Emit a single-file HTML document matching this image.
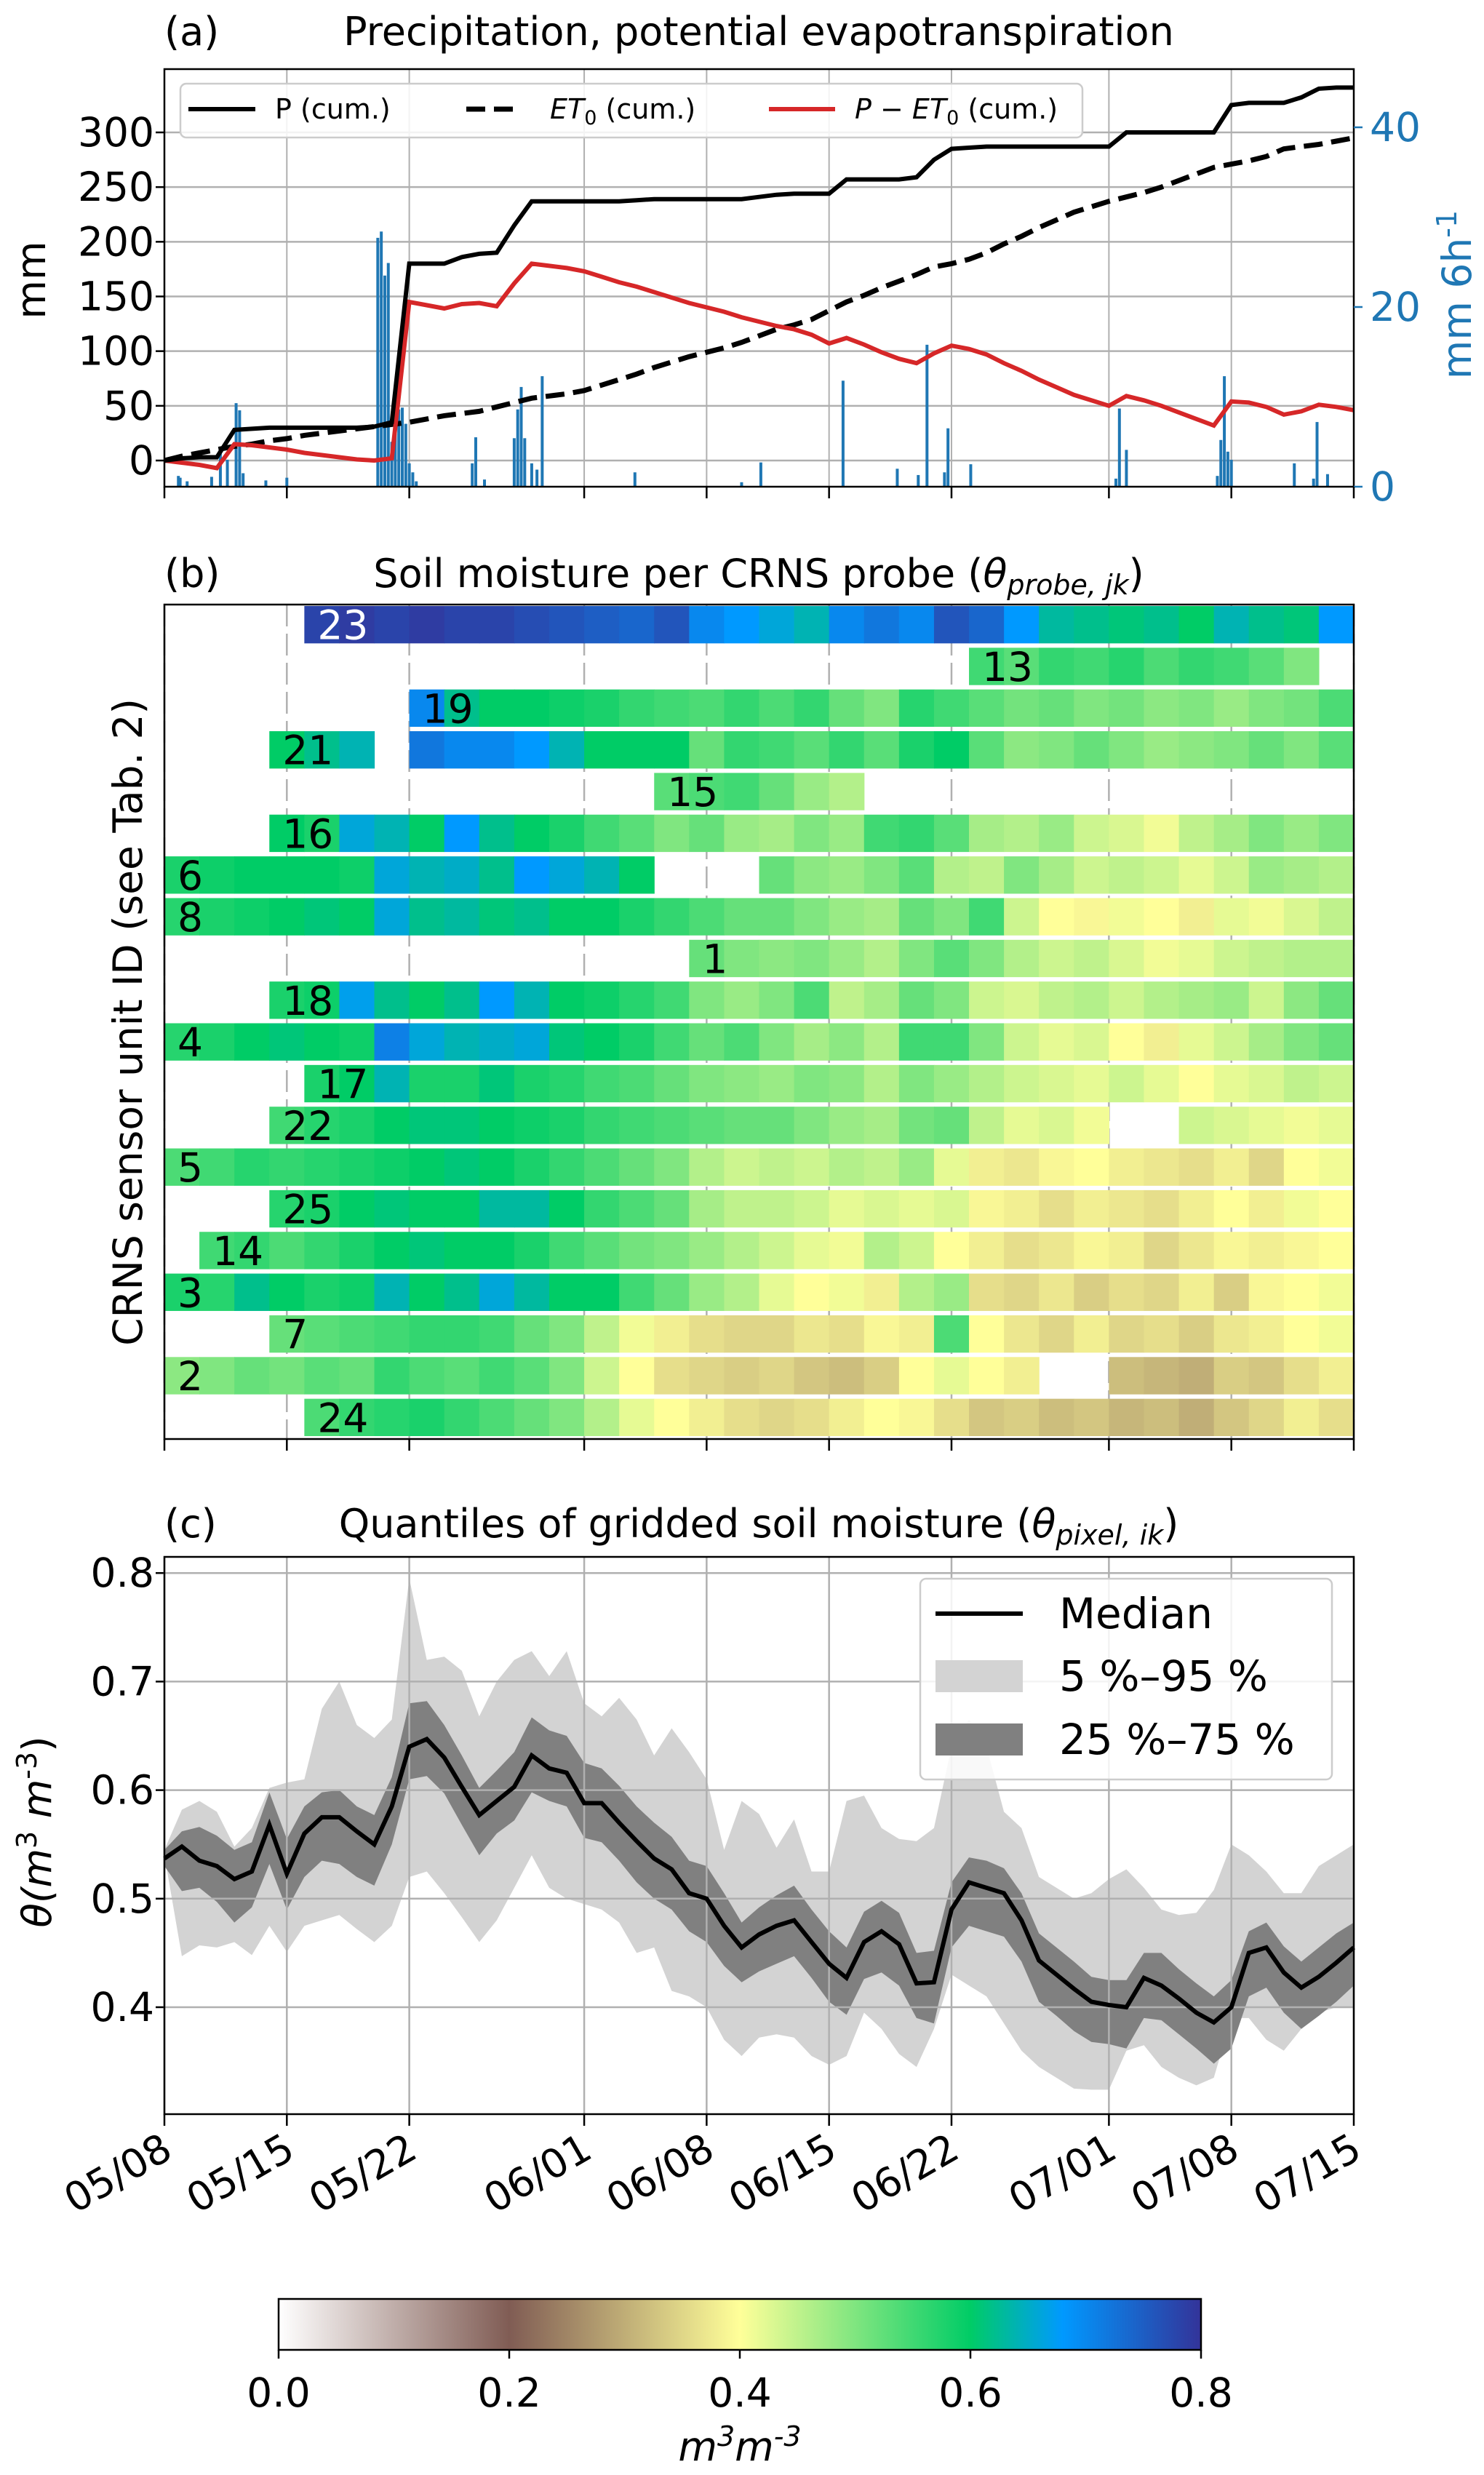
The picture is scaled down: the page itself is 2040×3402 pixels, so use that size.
<!DOCTYPE html>
<html><head><meta charset="utf-8"><style>
html,body{margin:0;padding:0;background:#fff}
svg text{font-family:"DejaVu Sans","Liberation Sans",sans-serif}
</style></head><body>
<svg id="fig" xmlns="http://www.w3.org/2000/svg" width="2040" height="3397" viewBox="0 0 2040 3397">
<defs>
<linearGradient id="cbgrad" x1="0" x2="1" y1="0" y2="0">
<stop offset="0" stop-color="#ffffff"/><stop offset="0.25" stop-color="#805c54"/><stop offset="0.5" stop-color="#ffff99"/><stop offset="0.75" stop-color="#00cc66"/><stop offset="0.85" stop-color="#0099ff"/><stop offset="1" stop-color="#333399"/>
</linearGradient>
</defs>
<g id="pa"></g>
<g id="pb"></g>
<g id="pc"></g>
<g id="cb"></g>
</svg>
<script>
// ---------- shared data ----------
const dateTickDays = [0,7,14,24,31,38,45,54,61,68];
const dateTickLabels = ["05/08","05/15","05/22","06/01","06/08","06/15","06/22","07/01","07/08","07/15"];
// Panel a
const precipCum = [0,2,3,3,28,29,30,30,30,30,30,30,31,35,180,180,180,186,189,190,215,237,237,237,237,237,237,238,239,239,239,239,239,239,241,243,244,244,244,257,257,257,257,259,275,285,286,287,287,287,287,287,287,287,287,300,300,300,300,300,300,325,327,327,327,332,340,341,341];
const et0Cum = [0,4,7,10,13,15,18,20,23,25,27,29,31,33,35,38,41,43,45,49,53,57,59,61,64,69,74,79,85,90,95,99,103,108,114,120,124,129,137,145,151,158,164,170,177,180,184,190,198,205,213,220,227,232,237,241,245,250,256,262,268,271,274,278,285,287,289,292,295];
const rainDay = [0.8,0.9,1.3,2.7,3.2,3.6,4.1,4.3,4.5,5.8,7.0,12.2,12.4,12.6,12.8,13.0,13.2,13.4,13.6,13.8,14.0,14.2,14.4,17.6,17.8,18.3,20.0,20.2,20.4,20.6,21.0,21.3,21.6,26.9,33.0,34.1,38.8,41.9,43.1,43.6,44.6,44.8,46.1,54.4,54.6,55.0,60.2,60.4,60.6,60.8,61.0,64.6,65.7,65.9,66.5];
const rainVal = [1.2,1.0,0.6,1.1,4.0,3.0,9.3,8.5,1.5,0.7,1.0,27.7,28.4,23.5,24.9,5,10.6,8.6,8.8,7,2.6,1.6,0.6,2.6,5.5,0.8,5.4,8.6,11.1,5.4,2.6,1.9,12.3,1.6,0.5,2.7,11.8,2.0,1.3,15.8,1.6,6.5,2.5,0.9,8.7,4.1,1.2,5.2,12.3,3.9,3.0,2.6,0.9,7.2,1.4];
const aLeftTicks = [0,50,100,150,200,250,300];
const aRightTicks = [0,20,40];
// Panel b
const probeIds = ["23","13","19","21","15","16","6","8","1","18","4","17","22","5","25","14","3","7","2","24"];
const N = null;
const sm23=[N,N,N,N,0.78,0.79,0.78,0.79,0.78,0.78,0.77,0.76,0.75,0.74,0.76,0.70,0.68,0.66,0.64,0.70,0.72,0.70,0.76,0.74,0.68,0.63,0.62,0.61,0.62,0.60,0.64,0.62,0.61,0.68];
const sm13=[N,N,N,N,N,N,N,N,N,N,N,N,N,N,N,N,N,N,N,N,N,N,N,0.55,0.53,0.56,0.55,0.57,0.54,0.56,0.55,0.53,0.50,N];
const sm19=[N,N,N,N,N,N,N,0.70,0.62,0.60,0.60,0.59,0.58,0.56,0.55,0.54,0.56,0.54,0.56,0.52,0.50,0.57,0.55,0.53,0.51,0.52,0.50,0.51,0.49,0.50,0.48,0.50,0.51,0.54];
const sm21=[N,N,N,0.60,0.62,0.64,N,0.72,0.70,0.70,0.68,0.64,0.60,0.60,0.60,0.52,0.56,0.55,0.53,0.56,0.53,0.58,0.60,0.53,0.49,0.50,0.52,0.50,0.48,0.49,0.50,0.52,0.50,0.53];
const sm15=[N,N,N,N,N,N,N,N,N,N,N,N,N,N,0.53,0.54,0.55,0.52,0.48,0.46,N,N,N,N,N,N,N,N,N,N,N,N,N,N];
const sm16=[N,N,N,0.60,0.58,0.66,0.64,0.60,0.68,0.62,0.60,0.58,0.55,0.53,0.50,0.52,0.48,0.47,0.50,0.48,0.55,0.56,0.53,0.47,0.46,0.48,0.44,0.43,0.41,0.45,0.47,0.50,0.48,0.50];
const sm6=[0.58,0.59,0.60,0.60,0.60,0.59,0.66,0.64,0.65,0.62,0.68,0.66,0.64,0.60,N,N,N,0.52,0.49,0.48,0.50,0.53,0.46,0.45,0.50,0.47,0.44,0.45,0.44,0.42,0.44,0.48,0.47,0.46];
const sm8=[0.57,0.58,0.59,0.60,0.61,0.60,0.66,0.62,0.63,0.61,0.62,0.60,0.60,0.58,0.56,0.54,0.52,0.52,0.50,0.48,0.47,0.52,0.50,0.55,0.44,0.40,0.39,0.41,0.40,0.38,0.42,0.41,0.43,0.45];
const sm1=[N,N,N,N,N,N,N,N,N,N,N,N,N,N,N,0.52,0.50,0.49,0.50,0.48,0.46,0.50,0.53,0.50,0.46,0.44,0.45,0.43,0.41,0.42,0.44,0.45,0.46,0.46];
const sm18=[N,N,N,0.58,0.59,0.67,0.62,0.60,0.62,0.68,0.64,0.60,0.59,0.57,0.55,0.50,0.48,0.50,0.54,0.45,0.47,0.52,0.50,0.44,0.43,0.45,0.46,0.44,0.46,0.47,0.48,0.44,0.49,0.52];
const sm4=[0.57,0.58,0.60,0.61,0.60,0.59,0.71,0.66,0.64,0.65,0.66,0.61,0.60,0.58,0.55,0.52,0.54,0.50,0.47,0.49,0.46,0.55,0.55,0.50,0.44,0.42,0.43,0.40,0.38,0.42,0.44,0.47,0.50,0.52];
const sm17=[N,N,N,N,0.58,0.60,0.64,0.58,0.58,0.61,0.58,0.57,0.55,0.54,0.52,0.50,0.49,0.48,0.50,0.49,0.46,0.50,0.48,0.46,0.44,0.43,0.42,0.44,0.42,0.40,0.42,0.43,0.45,0.44];
const sm22=[N,N,N,0.55,0.57,0.58,0.60,0.61,0.61,0.60,0.59,0.58,0.56,0.55,0.54,0.53,0.52,0.52,0.50,0.48,0.47,0.51,0.52,0.45,0.42,0.43,0.41,N,N,0.44,0.43,0.42,0.41,0.42];
const sm5=[0.54,0.55,0.57,0.56,0.57,0.58,0.59,0.60,0.61,0.60,0.58,0.56,0.54,0.52,0.50,0.46,0.44,0.45,0.44,0.46,0.45,0.48,0.42,0.38,0.37,0.39,0.40,0.38,0.37,0.36,0.38,0.35,0.40,0.41];
const sm25=[N,N,N,0.57,0.58,0.60,0.61,0.60,0.60,0.63,0.63,0.60,0.56,0.54,0.52,0.47,0.45,0.45,0.44,0.42,0.43,0.42,0.43,0.39,0.38,0.36,0.38,0.37,0.36,0.38,0.40,0.38,0.41,0.40];
const sm14=[N,0.55,0.56,0.54,0.56,0.58,0.60,0.61,0.60,0.60,0.58,0.55,0.53,0.51,0.50,0.48,0.46,0.44,0.42,0.41,0.46,0.44,0.40,0.38,0.36,0.37,0.39,0.38,0.35,0.37,0.39,0.38,0.39,0.40];
const sm3=[0.58,0.57,0.62,0.60,0.58,0.59,0.64,0.60,0.62,0.66,0.63,0.60,0.60,0.55,0.52,0.48,0.46,0.42,0.40,0.41,0.38,0.46,0.48,0.36,0.35,0.37,0.34,0.36,0.35,0.38,0.34,0.39,0.40,0.41];
const sm7=[N,N,N,0.52,0.53,0.54,0.55,0.56,0.56,0.55,0.52,0.50,0.45,0.41,0.38,0.36,0.35,0.35,0.37,0.36,0.39,0.38,0.54,0.40,0.37,0.35,0.38,0.35,0.36,0.34,0.37,0.38,0.40,0.41];
const sm2=[0.49,0.50,0.52,0.51,0.53,0.52,0.56,0.54,0.53,0.55,0.53,0.50,0.44,0.40,0.36,0.35,0.34,0.35,0.33,0.32,0.34,0.40,0.42,0.40,0.38,N,N,0.32,0.31,0.30,0.34,0.33,0.36,0.38];
const sm24=[N,N,N,N,0.54,0.56,0.57,0.58,0.56,0.54,0.52,0.50,0.46,0.42,0.40,0.38,0.36,0.35,0.36,0.38,0.40,0.39,0.36,0.33,0.34,0.32,0.33,0.31,0.32,0.30,0.33,0.35,0.38,0.36];
const probeRows = [sm23,sm13,sm19,sm21,sm15,sm16,sm6,sm8,sm1,sm18,sm4,sm17,sm22,sm5,sm25,sm14,sm3,sm7,sm2,sm24];
// Panel c
const qMedian=[0.537,0.548,0.535,0.530,0.518,0.525,0.568,0.523,0.560,0.575,0.575,0.562,0.550,0.585,0.640,0.647,0.630,0.603,0.577,0.590,0.603,0.632,0.620,0.616,0.588,0.588,0.570,0.553,0.537,0.527,0.505,0.500,0.475,0.455,0.467,0.475,0.480,0.460,0.440,0.427,0.460,0.470,0.458,0.422,0.423,0.490,0.515,0.510,0.505,0.480,0.443,0.430,0.417,0.405,0.402,0.400,0.427,0.420,0.408,0.395,0.386,0.400,0.450,0.455,0.432,0.418,0.428,0.441,0.455];
const q75=[0.545,0.562,0.566,0.558,0.545,0.552,0.598,0.555,0.585,0.598,0.600,0.585,0.577,0.612,0.680,0.682,0.660,0.632,0.602,0.618,0.635,0.667,0.655,0.650,0.625,0.620,0.604,0.585,0.570,0.557,0.535,0.530,0.505,0.478,0.492,0.503,0.512,0.490,0.470,0.455,0.488,0.498,0.487,0.450,0.452,0.515,0.538,0.535,0.528,0.505,0.468,0.455,0.442,0.428,0.425,0.425,0.450,0.450,0.435,0.422,0.410,0.425,0.470,0.478,0.456,0.442,0.455,0.468,0.478];
const q25=[0.530,0.507,0.510,0.497,0.478,0.492,0.532,0.490,0.520,0.535,0.532,0.520,0.512,0.550,0.610,0.613,0.597,0.568,0.540,0.560,0.572,0.598,0.590,0.585,0.556,0.552,0.535,0.515,0.500,0.490,0.470,0.460,0.438,0.423,0.433,0.440,0.447,0.427,0.405,0.393,0.426,0.432,0.420,0.390,0.385,0.455,0.475,0.470,0.465,0.442,0.405,0.392,0.378,0.368,0.366,0.362,0.390,0.388,0.375,0.362,0.348,0.362,0.410,0.418,0.395,0.380,0.392,0.405,0.420];
const q95=[0.545,0.582,0.590,0.580,0.548,0.565,0.602,0.607,0.610,0.675,0.700,0.660,0.648,0.665,0.795,0.720,0.723,0.710,0.668,0.700,0.720,0.728,0.705,0.728,0.680,0.668,0.685,0.665,0.632,0.657,0.635,0.610,0.545,0.590,0.578,0.547,0.573,0.525,0.525,0.590,0.595,0.565,0.555,0.553,0.565,0.640,0.665,0.640,0.580,0.565,0.520,0.510,0.500,0.505,0.518,0.527,0.510,0.490,0.485,0.487,0.508,0.550,0.540,0.525,0.505,0.505,0.530,0.540,0.550];
const q05=[0.540,0.447,0.457,0.455,0.460,0.448,0.475,0.451,0.475,0.480,0.485,0.472,0.460,0.475,0.520,0.525,0.505,0.483,0.460,0.480,0.510,0.540,0.510,0.500,0.495,0.490,0.478,0.450,0.455,0.415,0.410,0.400,0.370,0.355,0.372,0.375,0.372,0.355,0.347,0.355,0.395,0.380,0.357,0.345,0.380,0.430,0.420,0.410,0.385,0.360,0.345,0.335,0.325,0.324,0.324,0.360,0.365,0.345,0.335,0.328,0.335,0.390,0.390,0.370,0.360,0.380,0.395,0.400,0.400];
const cTicks=[0.4,0.5,0.6,0.7,0.8];
const cbTicks=[0.0,0.2,0.4,0.6,0.8];

// ---------- helpers ----------
const NS="http://www.w3.org/2000/svg";
function mk(parent,tag,attrs,txt){const e=document.createElementNS(NS,tag);for(const k in attrs)e.setAttribute(k,attrs[k]);if(txt!==undefined)e.textContent=txt;parent.appendChild(e);return e;}
const L=226,R=1861;
const xd=d=>L+(R-L)*d/68;
function lerp(a,b,t){return a+(b-a)*t}
const cmStops=[[0,[255,255,255]],[0.2,[128,92,84]],[0.4,[255,255,153]],[0.6,[0,204,102]],[0.68,[0,153,255]],[0.8,[51,51,153]]];
function cmap(v){v=Math.max(0,Math.min(0.8,v));for(let i=1;i<cmStops.length;i++){if(v<=cmStops[i][0]){const a=cmStops[i-1],b=cmStops[i];const t=(v-a[0])/(b[0]-a[0]);return `rgb(${Math.round(lerp(a[1][0],b[1][0],t))},${Math.round(lerp(a[1][1],b[1][1],t))},${Math.round(lerp(a[1][2],b[1][2],t))})`;}}return "rgb(51,51,153)";}
function xTicks(g,B){dateTickDays.forEach((d)=>{const t=mk(g,'line',{x1:xd(d),x2:xd(d),y1:B,y2:B+16,stroke:'#000','stroke-width':2.5});});}

// ---------- Panel A ----------
(function(){
const g=document.getElementById('pa');const T=95,B=669;
const y=v=>633-v*451/300;const yr=v=>669-v*494/40;
mk(g,'text',{x:226,y:62,'font-size':54,},'(a)');
mk(g,'text',{x:1043,y:62,'font-size':54,'text-anchor':'middle',},'Precipitation, potential evapotranspiration');
aLeftTicks.forEach(v=>{const l=mk(g,'line',{x1:L,x2:R,y1:y(v),y2:y(v),stroke:'#b0b0b0','stroke-width':2.5});
const t=mk(g,'text',{x:L-14,y:y(v)+19,'font-size':55,'text-anchor':'end'},String(v));
mk(g,'line',{x1:L-12,x2:L,y1:y(v),y2:y(v),stroke:'#000','stroke-width':2.5});});
dateTickDays.forEach(d=>{const l=mk(g,'line',{x1:xd(d),x2:xd(d),y1:T,y2:B,stroke:'#b0b0b0','stroke-width':2});});
const bw=4;
rainDay.forEach((d,i)=>{const r=mk(g,'rect',{x:xd(d)-bw/2,y:yr(rainVal[i]),width:bw,height:B-yr(rainVal[i]),fill:'#1f77b4'});});
const pts=a=>a.map((v,i)=>`${xd(i).toFixed(1)},${y(v).toFixed(1)}`).join(' ');
const diff=precipCum.map((v,i)=>v-et0Cum[i]);
let e=mk(g,'polyline',{points:pts(et0Cum),fill:'none',stroke:'#000','stroke-width':7,'stroke-dasharray':'26 12'});
e=mk(g,'polyline',{points:pts(diff),fill:'none',stroke:'#d62728','stroke-width':6});
e=mk(g,'polyline',{points:pts(precipCum),fill:'none',stroke:'#000','stroke-width':6});
mk(g,'rect',{x:L,y:T,width:R-L,height:B-T,fill:'none',stroke:'#000','stroke-width':2.5,});
aRightTicks.forEach(v=>{mk(g,'line',{x1:R,x2:R+12,y1:yr(v),y2:yr(v),stroke:'#1f77b4','stroke-width':2.5});
const t=mk(g,'text',{x:R+22,y:yr(v)+19,'font-size':55,fill:'#1f77b4'},String(v));});
xTicks(g,B);
mk(g,'text',{x:0,y:0,'font-size':55,'text-anchor':'middle',transform:'translate(62,385) rotate(-90)',},'mm');
const rt=mk(g,'text',{x:0,y:0,'font-size':55,'text-anchor':'middle',fill:'#1f77b4',transform:'translate(2022,405) rotate(-90)',},'mm 6h');
mk(rt,'tspan',{dy:-20,'font-size':38},'-1');
// legend
const lg=mk(g,'g',{});
mk(lg,'rect',{x:248,y:115,width:1240,height:74,rx:8,fill:'#fff','fill-opacity':0.85,stroke:'#ccc','stroke-width':2.5});
mk(lg,'line',{x1:259,x2:351,y1:150,y2:150,stroke:'#000','stroke-width':6,});
mk(lg,'text',{x:378,y:163,'font-size':38},'P (cum.)');
mk(lg,'line',{x1:641,x2:713,y1:150,y2:150,stroke:'#000','stroke-width':7,'stroke-dasharray':'26 12',});
const t2=mk(lg,'text',{x:756,y:163,'font-size':38});mk(t2,'tspan',{'font-style':'italic'},'ET');mk(t2,'tspan',{dy:8,'font-size':27},'0');mk(t2,'tspan',{dy:-8},' (cum.)');
mk(lg,'line',{x1:1057,x2:1148,y1:150,y2:150,stroke:'#d62728','stroke-width':6,});
const t3=mk(lg,'text',{x:1175,y:163,'font-size':38});mk(t3,'tspan',{'font-style':'italic'},'P − ET');mk(t3,'tspan',{dy:8,'font-size':27},'0');mk(t3,'tspan',{dy:-8},' (cum.)');
})();

// ---------- Panel B ----------
(function(){
const g=document.getElementById('pb');const T=831,B=1978;const pitch=(B-T)/probeIds.length;
mk(g,'text',{x:226,y:807,'font-size':54,},'(b)');
const tt=mk(g,'text',{x:1043,y:807,'font-size':54,'text-anchor':'middle',},'Soil moisture per CRNS probe (');
mk(tt,'tspan',{'font-style':'italic'},'θ');mk(tt,'tspan',{'font-style':'italic','font-size':38,dy:10},'probe, jk');mk(tt,'tspan',{dy:-10},')');
dateTickDays.forEach(d=>{const l=mk(g,'line',{x1:xd(d),x2:xd(d),y1:T,y2:B,stroke:'#b0b0b0','stroke-width':2.5,'stroke-dasharray':'30 10'});});
probeRows.forEach((row,r)=>{
 const y0=T+r*pitch+2;const h=pitch-6;let first=-1;
 row.forEach((v,c)=>{if(v===null)return;if(first<0)first=c;
  const cell=mk(g,'rect',{x:xd(c*2),y:y0,width:xd(c*2+2)-xd(c*2)+0.6,height:h,fill:cmap(v)});
  
  });
 const lab=mk(g,'text',{x:xd(first*2)+18,y:y0+h/2+20,'font-size':55,fill:probeIds[r]==='23'?'#fff':'#000'},probeIds[r]);
 
 
});
mk(g,'rect',{x:L,y:T,width:R-L,height:B-T,fill:'none',stroke:'#000','stroke-width':2.5,});
xTicks(g,B);
mk(g,'text',{x:0,y:0,'font-size':55,'text-anchor':'middle',transform:'translate(195,1405) rotate(-90)',},'CRNS sensor unit ID (see Tab. 2)');
})();

// ---------- Panel C ----------
(function(){
const g=document.getElementById('pc');const T=2140,B=2906;const y=v=>2759-(v-0.4)*1492;
mk(g,'text',{x:226,y:2113,'font-size':54,},'(c)');
const tt=mk(g,'text',{x:1043,y:2113,'font-size':54,'text-anchor':'middle',},'Quantiles of gridded soil moisture (');
mk(tt,'tspan',{'font-style':'italic'},'θ');mk(tt,'tspan',{'font-style':'italic','font-size':38,dy:10},'pixel, ik');mk(tt,'tspan',{dy:-10},')');
const band=(lo,hi)=>hi.map((v,i)=>`${xd(i).toFixed(1)},${y(v).toFixed(1)}`).concat(lo.map((v,i)=>`${xd(i).toFixed(1)},${y(v).toFixed(1)}`).reverse()).join(' ');
let e=mk(g,'polygon',{points:band(q05,q95),fill:'#d3d3d3'});
e=mk(g,'polygon',{points:band(q25,q75),fill:'#808080'});
cTicks.forEach(v=>{mk(g,'line',{x1:L,x2:R,y1:y(v),y2:y(v),stroke:'#b0b0b0','stroke-width':2.5,});
 mk(g,'line',{x1:L-12,x2:L,y1:y(v),y2:y(v),stroke:'#000','stroke-width':2.5});
 const t=mk(g,'text',{x:L-14,y:y(v)+19,'font-size':55,'text-anchor':'end'},v.toFixed(1));});
dateTickDays.forEach((d,i)=>{mk(g,'line',{x1:xd(d),x2:xd(d),y1:T,y2:B,stroke:'#b0b0b0','stroke-width':2.5,});
 const t=mk(g,'text',{x:0,y:0,'font-size':55,'text-anchor':'end',transform:`translate(${xd(d)+14},${B+58}) rotate(-30)`},dateTickLabels[i]);});
e=mk(g,'polyline',{points:qMedian.map((v,i)=>`${xd(i).toFixed(1)},${y(v).toFixed(1)}`).join(' '),fill:'none',stroke:'#000','stroke-width':6});
mk(g,'rect',{x:L,y:T,width:R-L,height:B-T,fill:'none',stroke:'#000','stroke-width':2.5,});
xTicks(g,B);
const yl=mk(g,'text',{x:0,y:0,'font-size':55,'text-anchor':'middle',transform:'translate(70,2518) rotate(-90)',});
mk(yl,'tspan',{'font-style':'italic'},'θ(m');mk(yl,'tspan',{dy:-20,'font-size':38},'3');mk(yl,'tspan',{dy:20,'font-style':'italic'},' m');mk(yl,'tspan',{dy:-20,'font-size':38},'-3');mk(yl,'tspan',{dy:20},')');
const lg=mk(g,'g',{});
mk(lg,'rect',{x:1265,y:2170,width:566,height:276,rx:8,fill:'#fff','fill-opacity':0.85,stroke:'#ccc','stroke-width':2.5});
mk(lg,'line',{x1:1286,x2:1406,y1:2218,y2:2218,stroke:'#000','stroke-width':6,});
mk(lg,'text',{x:1456,y:2238,'font-size':58},'Median');
mk(lg,'rect',{x:1286,y:2282,width:120,height:44,fill:'#d3d3d3',});
mk(lg,'text',{x:1456,y:2324,'font-size':58},' 5 %–95 %');
mk(lg,'rect',{x:1286,y:2369,width:120,height:44,fill:'#808080',});
mk(lg,'text',{x:1456,y:2411,'font-size':58},'25 %–75 %');
})();

// ---------- Colorbar ----------
(function(){
const g=document.getElementById('cb');const x0=383,x1=1651,y0=3160,y1=3230;
mk(g,'rect',{x:x0,y:y0,width:x1-x0,height:y1-y0,fill:'url(#cbgrad)',stroke:'#000','stroke-width':2.5,});
cbTicks.forEach(v=>{const x=x0+(x1-x0)*v/0.8;mk(g,'line',{x1:x,x2:x,y1:y1,y2:y1+12,stroke:'#000','stroke-width':2.5});
 const t=mk(g,'text',{x:x,y:3308,'font-size':55,'text-anchor':'middle'},v.toFixed(1));});
const lab=mk(g,'text',{x:1017,y:3382,'font-size':55,'text-anchor':'middle','font-style':'italic',});
mk(lab,'tspan',{},'m');mk(lab,'tspan',{dy:-20,'font-size':38},'3');mk(lab,'tspan',{dy:20},'m');mk(lab,'tspan',{dy:-20,'font-size':38},'-3');
})();
</script>
</body></html>
